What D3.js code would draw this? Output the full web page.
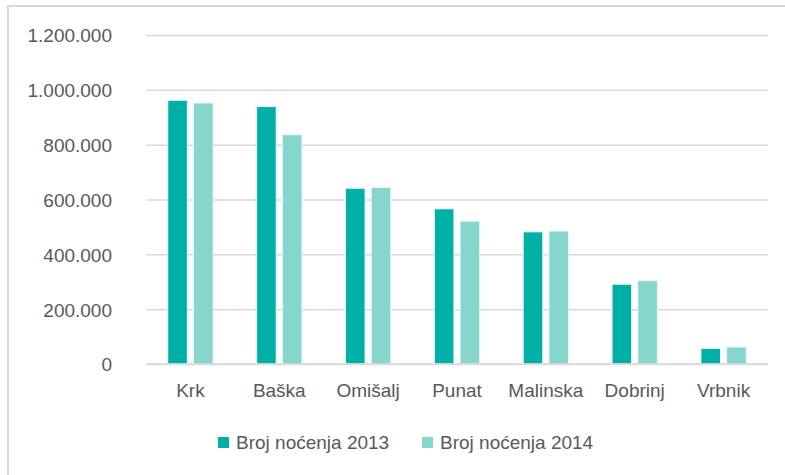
<!DOCTYPE html>
<html>
<head>
<meta charset="utf-8">
<script src="https://cdn.jsdelivr.net/npm/d3@7"></script>
<style>
  html, body { margin: 0; padding: 0; background: #fff; }
  svg { display: block; }
  text { font-family: "Liberation Sans", Arial, sans-serif; fill: #595959; }
</style>
</head>
<body>
<svg id="chart" width="785" height="475"></svg>
<script>
const categories = ["Krk", "Baška", "Omišalj", "Punat", "Malinska", "Dobrinj", "Vrbnik"];
const seriesNames = ["Broj noćenja 2013", "Broj noćenja 2014"];
const values2013 = [962000, 939000, 641000, 566000, 482000, 291000, 57000];
const values2014 = [952000, 836000, 644000, 521000, 485000, 304000, 62000];
const tickValues = [0, 200000, 400000, 600000, 800000, 1000000, 1200000];
const colors = ["#00B0A6", "#86D6CD"];

const seriesValues = [values2013, values2014];
const svg = d3.select("#chart");
const fontSize = 19;

// outer chart border (extends beyond the picture right/bottom)
svg.append("rect")
  .attr("x", 8).attr("y", 6)
  .attr("width", 800).attr("height", 500)
  .attr("fill", "none")
  .attr("stroke", "#D9D9D9")
  .attr("stroke-width", 2);

const plot = { left: 146, right: 768, top: 35, bottom: 364 };

const y = d3.scaleLinear().domain([0, 1200000]).range([plot.bottom, plot.top]);
const x0 = d3.scaleBand().domain(categories).range([plot.left, plot.right])
  .paddingInner(0.49).paddingOuter(0.245);
const x1 = d3.scaleBand().domain(seriesNames).range([0, x0.bandwidth()]).paddingInner(0.24);

const fmt = v => d3.format(",")(v).replace(/,/g, ".");

// gridlines via axis
const grid = svg.append("g")
  .attr("transform", `translate(${plot.left},0)`)
  .call(d3.axisRight(y).tickValues(tickValues).tickSize(plot.right - plot.left).tickFormat(""));
grid.select(".domain").remove();
grid.selectAll("line").attr("stroke", "#D9D9D9").attr("stroke-width", 1.5);

// y tick labels
const yAxis = svg.append("g")
  .attr("transform", `translate(112,0)`)
  .call(d3.axisLeft(y).tickValues(tickValues).tickSize(0).tickPadding(0).tickFormat(fmt));
yAxis.select(".domain").remove();
yAxis.selectAll("text")
  .attr("font-size", fontSize)
  .attr("font-family", "Liberation Sans, Arial, sans-serif")
  .attr("fill", "#595959")
  .attr("dy", "0.36em");

// bars
const groups = svg.append("g").selectAll("g")
  .data(categories)
  .join("g")
  .attr("transform", d => `translate(${x0(d)},0)`);

groups.selectAll("rect")
  .data((c, i) => seriesNames.map((s, j) => ({ s, v: seriesValues[j][i], j })))
  .join("rect")
  .attr("x", d => x1(d.s))
  .attr("width", x1.bandwidth())
  .attr("y", d => y(d.v))
  .attr("height", d => y(0) - y(d.v))
  .attr("fill", d => colors[d.j])
  .attr("stroke", "#E8F7F5")
  .attr("stroke-width", 1);

// x axis line
svg.append("line")
  .attr("x1", plot.left).attr("x2", plot.right)
  .attr("y1", y(0)).attr("y2", y(0))
  .attr("stroke", "#D9D9D9").attr("stroke-width", 1.5);

// x labels
const xAxis = svg.append("g")
  .attr("transform", `translate(0,${plot.bottom})`)
  .call(d3.axisBottom(x0).tickSize(0).tickPadding(0));
xAxis.select(".domain").remove();
xAxis.selectAll("text")
  .attr("font-size", fontSize)
  .attr("font-family", "Liberation Sans, Arial, sans-serif")
  .attr("fill", "#595959")
  .attr("dy", null)
  .attr("y", 33);

// legend
const legendX = [218, 422];
const legend = svg.append("g").selectAll("g")
  .data(seriesNames)
  .join("g")
  .attr("transform", (d, i) => `translate(${legendX[i]},437)`);
legend.append("rect")
  .attr("width", 11).attr("height", 11)
  .attr("fill", (d, i) => colors[i]);
legend.append("text")
  .attr("x", 18).attr("y", 5.5)
  .attr("dy", "0.36em")
  .attr("font-size", fontSize)
  .text(d => d);
</script>
</body>
</html>
